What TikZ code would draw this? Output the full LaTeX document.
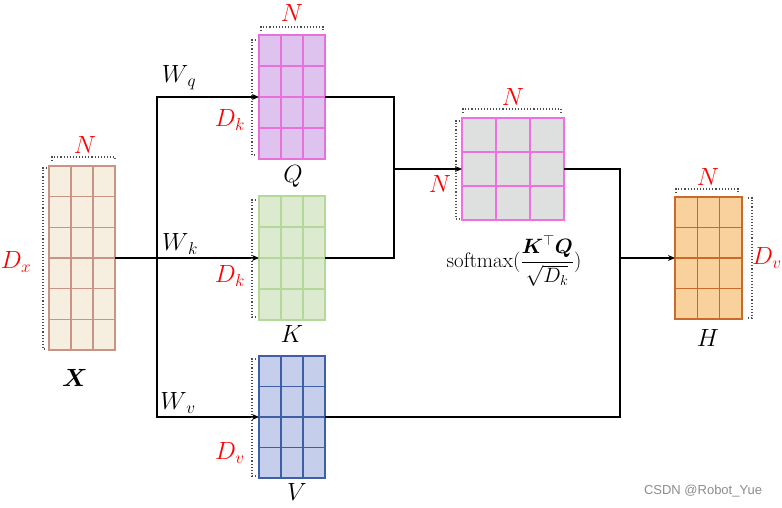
\documentclass[tikz,border=0pt]{standalone}
\usepackage{amsmath,bm}
\usepackage{fontspec}
\newfontfamily\wmfont{Liberation Sans}
\usetikzlibrary{arrows.meta,calc}
\definecolor{xfill}{HTML}{F6EFE0}\definecolor{xline}{HTML}{C89484}
\definecolor{qfill}{HTML}{DFC3EF}\definecolor{qline}{HTML}{E870D8}
\definecolor{kfill}{HTML}{DCEBD0}\definecolor{kline}{HTML}{B3D89A}
\definecolor{vfill}{HTML}{C5CEEA}\definecolor{vline}{HTML}{3E5FA6}
\definecolor{mfill}{HTML}{DEDFDF}\definecolor{mline}{HTML}{F070E2}
\definecolor{hfill}{HTML}{F8D19D}\definecolor{hline}{HTML}{C96A2A}
\newcommand\bsub[1]{_{\mbox{\fontsize{17}{19}\selectfont$#1$}}}
\newcommand\matgrid[4]{% node, cols, rows, color
  \foreach \i in {1,...,\numexpr#2-1\relax}
    \draw[#4,line width=1.5pt] ($(#1.north west)!\i/#2!(#1.north east)$) -- ($(#1.south west)!\i/#2!(#1.south east)$);
  \foreach \j in {1,...,\numexpr#3-1\relax}
    \draw[#4,line width=1.5pt] ($(#1.north west)!\j/#3!(#1.south west)$) -- ($(#1.north east)!\j/#3!(#1.south east)$);
  \draw[#4,line width=1.5pt] (#1.north west) rectangle (#1.south east);
}
\tikzset{
  matbox/.style={inner sep=0pt,outer sep=0pt},
  conn/.style={line width=1.1pt,black},
  arr/.style={conn,-{Stealth[length=7pt,width=6pt]}},
  brk/.style={dotted,line width=1.1pt,black!70},
  lab/.style={font=\fontsize{23}{27}\selectfont,inner sep=0pt},
  rlab/.style={lab,text=red},
}
\begin{document}
\begin{tikzpicture}[x=1pt,y=-1pt]
\useasboundingbox (0,0) rectangle (782,507);
% matrices
\node[matbox,fill=xfill,minimum width=66pt,minimum height=184pt] (X) at (82,258) {};
\matgrid{X}{3}{6}{xline}
\node[matbox,fill=qfill,minimum width=66pt,minimum height=124pt] (Q) at (292,97) {};
\matgrid{Q}{3}{4}{qline}
\node[matbox,fill=kfill,minimum width=66pt,minimum height=124pt] (K) at (292,258) {};
\matgrid{K}{3}{4}{kline}
\node[matbox,fill=vfill,minimum width=66pt,minimum height=122pt] (V) at (292,417) {};
\matgrid{V}{3}{4}{vline}
\node[matbox,fill=mfill,minimum width=102pt,minimum height=102pt] (M) at (513,169) {};
\matgrid{M}{3}{3}{mline}
\node[matbox,fill=hfill,minimum width=67pt,minimum height=122pt] (H) at (708.5,258) {};
\matgrid{H}{3}{4}{hline}
% junctions
\coordinate (s) at (157,258);
\coordinate (j) at (394,169);
\coordinate (j2) at (620,258);
% connectors
\draw[conn] (X.east) -- (s);
\draw[arr] (s) |- (Q.west);
\draw[arr] (s) -- (K.west);
\draw[arr] (s) |- (V.west);
\draw[conn] (Q.east) -| (j);
\draw[conn] (K.east) -| (j);
\draw[arr] (j) -- (M.west);
\draw[conn] (M.east) -| (j2);
\draw[conn] (V.east) -| (j2);
\draw[arr] (j2) -- (H.west);
% brackets
\draw[brk] (52,161) -- (52,157) -- (115,157) -- (115,161);
\draw[brk] (47,168) -- (43,168) -- (43,349) -- (47,349);
\draw[brk] (261,31) -- (261,27) -- (323,27) -- (323,31);
\draw[brk] (256,40) -- (252,40) -- (252,155) -- (256,155);
\draw[brk] (256,200) -- (252,200) -- (252,317) -- (256,317);
\draw[brk] (256,359) -- (252,359) -- (252,476) -- (256,476);
\draw[brk] (463,113) -- (463,109) -- (561,109) -- (561,113);
\draw[brk] (460,121) -- (456,121) -- (456,219) -- (460,219);
\draw[brk] (676,193) -- (676,189) -- (738,189) -- (738,193);
\draw[brk] (748,198) -- (752,198) -- (752,318) -- (748,318);
% labels
\node[rlab] (nX) at (85,145) {$N$};
\node[rlab] (dX) at (16,262) {$D\bsub{x}$};
\node[lab] (lX) at (75,378) {$\bm{X}$};
\node[rlab] (nQ) at (292,13) {$N$};
\node[rlab] (dQ) at (230,120) {$D\bsub{k}$};
\node[lab] (lQ) at (293,176) {$Q$};
\node[rlab] (dK) at (230,276) {$D\bsub{k}$};
\node[lab] (lK) at (292,334) {$K$};
\node[rlab] (dV) at (230,453) {$D\bsub{v}$};
\node[lab] (lV) at (297,492) {$V$};
\node[lab] (wq) at (179,78) {$W\bsub{\,q}$};
\node[lab] (wk) at (180,244) {$W\bsub{\,k}$};
\node[lab] (wv) at (178,403) {$W\bsub{\,v}$};
\node[rlab] (nM) at (513,97) {$N$};
\node[rlab] (dM) at (440,184) {$N$};
\node[lab,font=\fontsize{21}{25}\selectfont] (sm) at (514,261) {softmax$(\dfrac{\bm{K}^{\top}\bm{Q}}{\sqrt{D_k}})$};
\node[rlab] (nH) at (708,177) {$N$};
\node[rlab] (dH) at (767,258) {$D\bsub{v}$};
\node[lab] (lH) at (708,338) {$H$};
\node[font=\wmfont\fontsize{13}{15}\selectfont,text=black!45,inner sep=0pt] (wm) at (703,491) {CSDN @Robot\_Yue};
\end{tikzpicture}
\end{document}
